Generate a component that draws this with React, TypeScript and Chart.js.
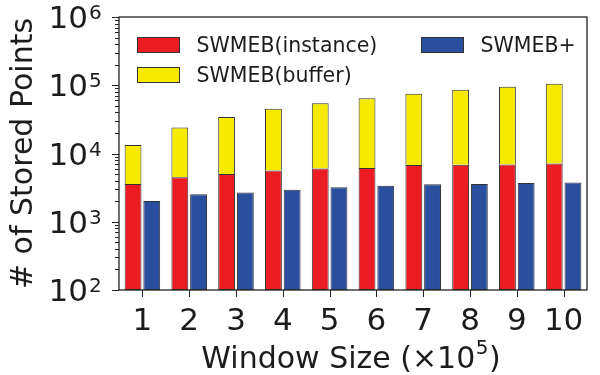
import React, { useEffect, useRef } from 'react';
import { Chart, registerables } from 'chart.js';

Chart.register(...registerables);

const categories = ['1', '2', '3', '4', '5', '6', '7', '8', '9', '10'];
const instanceValues = [3570, 4470, 4990, 5650, 6050, 6110, 6760, 6840, 6920, 7160];
const bufferValues = [9800, 19600, 29400, 39500, 48600, 58600, 68000, 78900, 88000, 97800];
const plusValues = [2010, 2520, 2690, 2940, 3190, 3370, 3530, 3570, 3690, 3770];
const yTickExponents = [2, 3, 4, 5, 6];
const seriesNames = ['SWMEB(instance)', 'SWMEB(buffer)', 'SWMEB+'];
const seriesColors = ['#EC1C24', '#F5EA00', '#2A4F9F'];
const xTitleMain = 'Window Size (×10';
const xTitleSup = '5';
const xTitleEnd = ')';
const yTitle = '# of Stored Points';

const FONT = '"DejaVu Sans", "Noto Sans", sans-serif';
const TEXT = '#1c1c1c';
const AXIS = '#222222';
const EDGE = '#333333';

const decorPlugin = {
  id: 'decor',
  afterDatasetsDraw(chart: any) {
    const { ctx, chartArea: a, scales } = chart;
    const xs = scales.x;
    const ys = scales.y;
    ctx.save();

    // frame
    ctx.strokeStyle = AXIS;
    ctx.lineWidth = 1.3;
    ctx.strokeRect(a.left, a.top, a.right - a.left, a.bottom - a.top);

    // y ticks (major + minor)
    ctx.lineWidth = 1;
    ctx.beginPath();
    for (let i = 0; i < yTickExponents.length; i++) {
      const e = yTickExponents[i];
      const py = Math.round(ys.getPixelForValue(Math.pow(10, e))) + 0.5;
      ctx.moveTo(a.left - 7, py);
      ctx.lineTo(a.left, py);
      if (i < yTickExponents.length - 1) {
        for (let k = 2; k <= 9; k++) {
          const pm = Math.round(ys.getPixelForValue(k * Math.pow(10, e))) + 0.5;
          ctx.moveTo(a.left - 4, pm);
          ctx.lineTo(a.left, pm);
        }
      }
    }
    // x ticks
    for (let i = 0; i < categories.length; i++) {
      const px = Math.round(xs.getPixelForValue(i)) + 0.5;
      ctx.moveTo(px, a.bottom);
      ctx.lineTo(px, a.bottom + 7);
    }
    ctx.stroke();

    ctx.fillStyle = TEXT;
    ctx.textBaseline = 'alphabetic';

    // y tick labels
    for (const e of yTickExponents) {
      const py = ys.getPixelForValue(Math.pow(10, e));
      ctx.font = `31px ${FONT}`;
      ctx.textAlign = 'right';
      ctx.fillText('10', a.left - 31, py + 11);
      ctx.font = `20px ${FONT}`;
      ctx.textAlign = 'left';
      ctx.fillText(String(e), a.left - 30, py + 2);
    }

    // x tick labels
    ctx.font = `31px ${FONT}`;
    ctx.textAlign = 'center';
    for (let i = 0; i < categories.length; i++) {
      ctx.fillText(categories[i], xs.getPixelForValue(i), a.bottom + 39.5);
    }

    // x title
    ctx.textAlign = 'left';
    ctx.font = `30px ${FONT}`;
    const w1 = ctx.measureText(xTitleMain).width;
    const w3 = ctx.measureText(xTitleEnd).width;
    ctx.font = `20px ${FONT}`;
    const w2 = ctx.measureText(xTitleSup).width;
    const total = w1 + w2 + w3 + 1;
    let sx = (a.left + a.right) / 2 - total / 2 - 2;
    const base = a.bottom + 78;
    ctx.font = `30px ${FONT}`;
    ctx.fillText(xTitleMain, sx, base);
    sx += w1;
    ctx.font = `20px ${FONT}`;
    ctx.fillText(xTitleSup, sx + 0.5, base - 14);
    sx += w2 + 1;
    ctx.font = `30px ${FONT}`;
    ctx.fillText(xTitleEnd, sx, base);

    // y title
    ctx.save();
    ctx.translate(31.5, (a.top + a.bottom) / 2);
    ctx.rotate(-Math.PI / 2);
    ctx.textAlign = 'center';
    ctx.font = `30px ${FONT}`;
    ctx.fillText(yTitle, 0, 0);
    ctx.restore();

    // legend
    const items = [
      { x: 137.5, y: 37.5, c: seriesColors[0], t: seriesNames[0] },
      { x: 137.5, y: 67.5, c: seriesColors[1], t: seriesNames[1] },
      { x: 421.5, y: 37.5, c: seriesColors[2], t: seriesNames[2] },
    ];
    ctx.font = `20.5px ${FONT}`;
    ctx.textAlign = 'left';
    for (const it of items) {
      ctx.fillStyle = it.c;
      ctx.fillRect(it.x, it.y, 42, 15);
      ctx.strokeStyle = EDGE;
      ctx.lineWidth = 1;
      ctx.strokeRect(it.x, it.y, 42, 15);
      ctx.fillStyle = TEXT;
      ctx.fillText(it.t, it.x + 59, it.y + 14);
    }

    ctx.restore();
  },
};

export default function App() {
  const canvasRef = useRef<HTMLCanvasElement | null>(null);

  useEffect(() => {
    document.body.style.margin = '0';
    const canvas = canvasRef.current;
    if (!canvas) return;
    const chart = new Chart(canvas, {
      type: 'bar',
      data: {
        labels: categories,
        datasets: [
          {
            label: seriesNames[0],
            data: instanceValues,
            backgroundColor: seriesColors[0],
            borderColor: EDGE,
            borderWidth: 1,
            borderSkipped: false,
            stack: 'swmeb',
          },
          {
            label: seriesNames[1],
            data: bufferValues,
            backgroundColor: seriesColors[1],
            borderColor: EDGE,
            borderWidth: 1,
            borderSkipped: 'start',
            stack: 'swmeb',
          },
          {
            label: seriesNames[2],
            data: plusValues,
            backgroundColor: seriesColors[2],
            borderColor: EDGE,
            borderWidth: 1,
            borderSkipped: false,
            stack: 'plus',
          },
        ],
      },
      options: {
        animation: false,
        responsive: true,
        maintainAspectRatio: false,
        devicePixelRatio: 1,
        layout: { padding: { left: 119, right: 13, top: 17, bottom: 85 } },
        datasets: { bar: { categoryPercentage: 0.8, barPercentage: 0.9 } },
        plugins: { legend: { display: false }, tooltip: { enabled: false } },
        scales: {
          x: { display: false, stacked: true },
          y: { display: false, stacked: true, type: 'logarithmic', min: 100, max: 1000000 },
        },
      },
      plugins: [decorPlugin],
    });
    return () => chart.destroy();
  }, []);

  return (
    <div style={{ position: 'absolute', left: 0, top: 0, width: 600, height: 375, background: '#fff' }}>
      <canvas ref={canvasRef} />
    </div>
  );
}
